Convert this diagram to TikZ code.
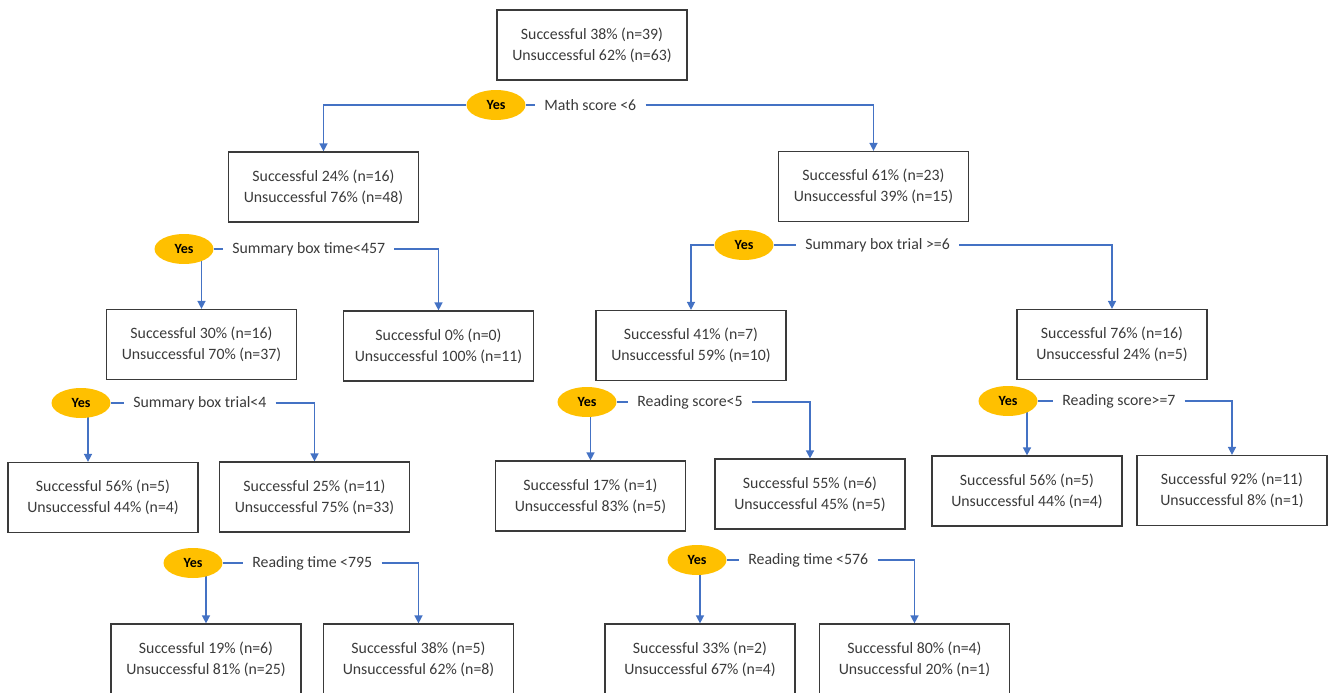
\documentclass[tikz,border=0pt]{standalone}
\usepackage{fontspec}
\setmainfont{Carlito}
\usetikzlibrary{arrows.meta,backgrounds,shapes.geometric}
\definecolor{linkblue}{HTML}{4472C4}
\definecolor{yesgold}{HTML}{FFC000}
\definecolor{inkgray}{HTML}{3A3A3A}
\begin{document}
\begin{tikzpicture}[x=0.02cm,y=-0.02cm,
  every node/.style={font=\fontsize{9}{12}\selectfont,text=inkgray},
  leaf/.style={draw=inkgray,line width=0.7pt,minimum width=3.8cm,minimum height=1.4cm,align=center,inner sep=0pt},
  yesnode/.style={ellipse,fill=yesgold,minimum width=1.18cm,minimum height=0.6cm,inner sep=0pt,font=\fontsize{8}{9}\selectfont\bfseries,text=black},
  cond/.style={anchor=west,inner xsep=0.18cm,inner ysep=0pt},
  link/.style={draw=linkblue,line width=0.85pt},
  arr/.style={link,-{Triangle[length=0.16cm,width=0.16cm]}}]
\useasboundingbox (0,0) rectangle (1330,693);
\clip (0,0) rectangle (1330,693);
\foreach \name/\x/\y/\s/\u in {
  root/592/45/38\% (n=39)/62\% (n=63),
  L1/323.5/187/24\% (n=16)/76\% (n=48),
  R1/873.5/186.5/61\% (n=23)/39\% (n=15),
  L2a/201.5/344.5/30\% (n=16)/70\% (n=37),
  L2b/438.5/346/0\% (n=0)/100\% (n=11),
  R2a/691/345.5/41\% (n=7)/59\% (n=10),
  R2b/1112/344.5/76\% (n=16)/24\% (n=5),
  L3a/103/497.5/56\% (n=5)/44\% (n=4),
  L3b/314.5/497/25\% (n=11)/75\% (n=33),
  R3a/590.5/496/17\% (n=1)/83\% (n=5),
  R3b/810/494/55\% (n=6)/45\% (n=5),
  R3c/1027/491/56\% (n=5)/44\% (n=4),
  R3d/1232/490.5/92\% (n=11)/8\% (n=1),
  L4a/206/659/19\% (n=6)/81\% (n=25),
  L4b/418.5/659/38\% (n=5)/62\% (n=8),
  R4a/700/659/33\% (n=2)/67\% (n=4),
  R4b/914.5/659/80\% (n=4)/20\% (n=1)
}{
  \node[leaf] (\name) at (\x,\y) {Successful \s\\Unsuccessful \u};
}
\foreach \n/\x/\y/\tx/\txt in {
  0/496/105/544/Math score <6,
  1/184/249/232/Summary box time<457,
  2/744/245/805/Summary box trial >=6,
  3/81/403/133/Summary box trial<4,
  4/587/402/637/Reading score<5,
  5/1008/401/1062/Reading score>=7,
  6/193/563/252/Reading time <795,
  7/697/560/748/Reading time <576
}{
  \node[yesnode] (yes\n) at (\x,\y) {Yes};
  \node[cond] (cond\n) at (\tx-9,\y) {\txt};
}
\begin{scope}[on background layer]
\foreach \n in {0,...,7}{
  \draw[link] (yes\n) -- (cond\n);
}
\draw[arr] (yes0.west) -| (L1.north);
\draw[arr] (cond0.east) -| (R1.north);
\draw[arr] (yes1.center -| L2a.north) -- (L2a.north);
\draw[arr] (cond1.east) -| (L2b.north);
\draw[arr] (yes2.west) -| (R2a.north);
\draw[arr] (cond2.east) -| (R2b.north);
\draw[arr] ([xshift=0.14cm]yes3.center) -- ([xshift=0.14cm]yes3.center |- L3a.north);
\draw[arr] (cond3.east) -| (L3b.north);
\draw[arr] (yes4.center -| R3a.north) -- (R3a.north);
\draw[arr] (cond4.east) -| (R3b.north);
\draw[arr] (yes5.center -| R3c.north) -- (R3c.north);
\draw[arr] (cond5.east) -| (R3d.north);
\draw[arr] (yes6.center -| L4a.north) -- (L4a.north);
\draw[arr] (cond6.east) -| (L4b.north);
\draw[arr] (yes7.center -| R4a.north) -- (R4a.north);
\draw[arr] (cond7.east) -| (R4b.north);
\end{scope}
\end{tikzpicture}
\end{document}
